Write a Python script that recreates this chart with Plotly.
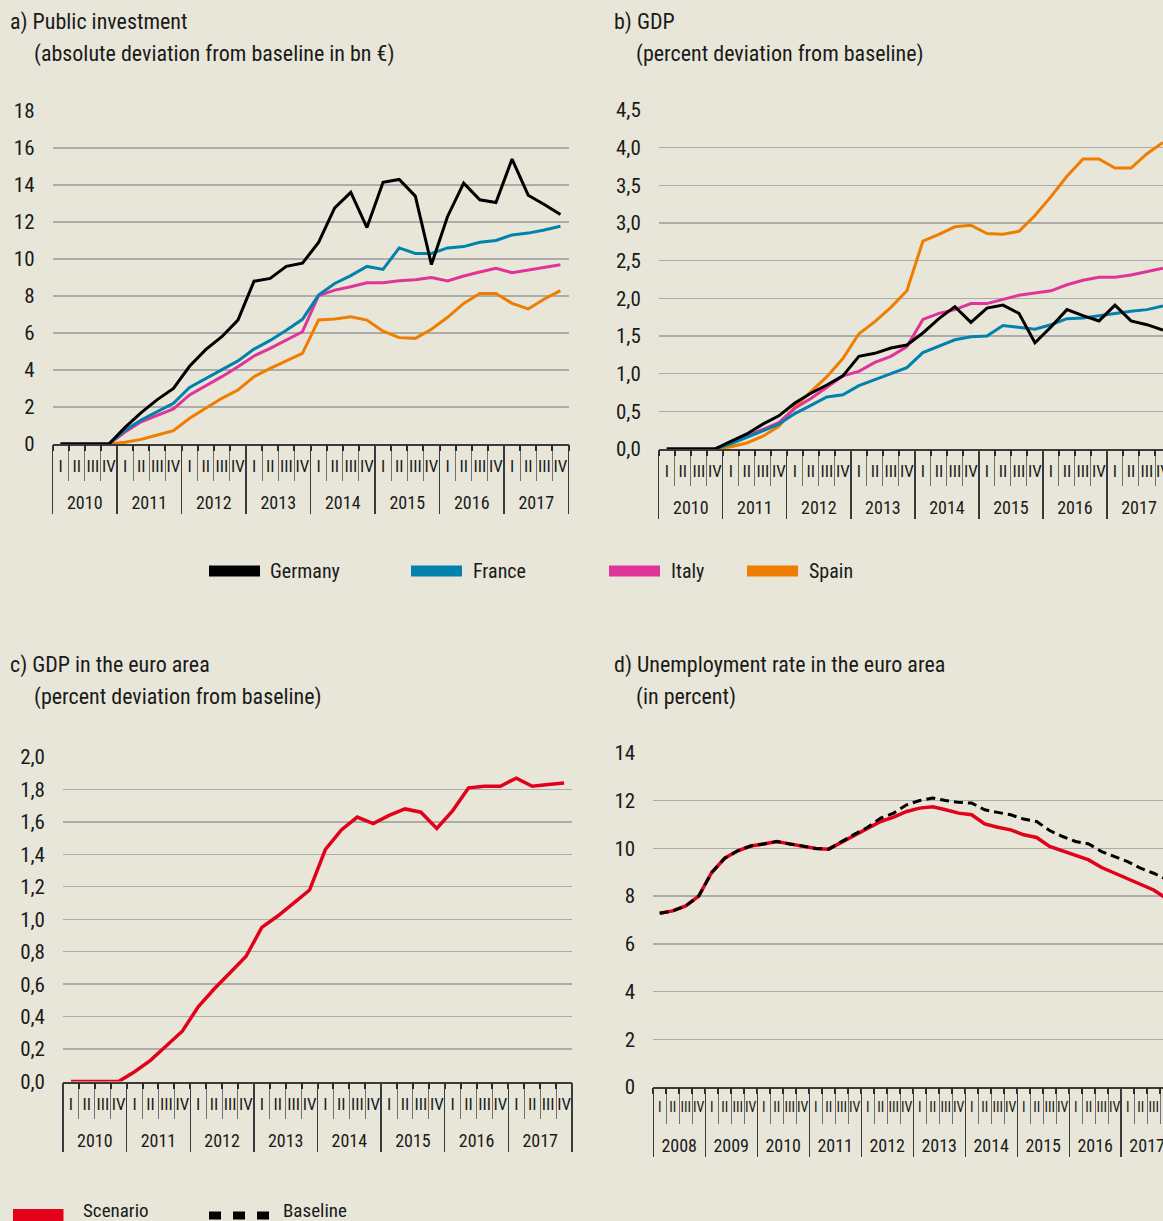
import plotly.graph_objects as go

W, H = 1163, 1221
BG = "#e8e6d9"
FONT = "Roboto Condensed, DejaVu Sans Condensed, Roboto, sans-serif"
TXT = "#1a1a1a"

quarters = ["I", "II", "III", "IV"]
years_ab = ["2010", "2011", "2012", "2013", "2014", "2015", "2016", "2017"]
years_d = ["2008", "2009", "2010", "2011", "2012", "2013", "2014", "2015", "2016", "2017"]

# a) Public investment (bn EUR deviation from baseline)
inv_germany = [0, 0, 0, 0, 0.9, 1.7, 2.4, 3.0, 4.2, 5.1, 5.8, 6.7, 8.8, 8.95, 9.6, 9.77,
               10.9, 12.76, 13.6, 11.7, 14.15, 14.3, 13.4, 9.7, 12.3, 14.1, 13.2, 13.05, 15.4, 13.45, 12.95, 12.4]
inv_france = [0, 0, 0, 0, 0.75, 1.3, 1.75, 2.2, 3.06, 3.55, 4.03, 4.49, 5.13, 5.6, 6.15, 6.74,
              8.05, 8.68, 9.1, 9.6, 9.44, 10.6, 10.3, 10.3, 10.6, 10.67, 10.9, 11.0, 11.3, 11.4, 11.57, 11.77]
inv_italy = [0, 0, 0, 0, 0.65, 1.2, 1.55, 1.9, 2.65, 3.13, 3.64, 4.18, 4.76, 5.17, 5.62, 6.07,
             8.02, 8.32, 8.5, 8.72, 8.72, 8.83, 8.88, 9.0, 8.81, 9.08, 9.3, 9.5, 9.26, 9.39, 9.53, 9.69]
inv_spain = [0, 0, 0, 0, 0.09, 0.25, 0.49, 0.72, 1.39, 1.93, 2.47, 2.92, 3.64, 4.09, 4.5, 4.9,
             6.7, 6.76, 6.88, 6.7, 6.1, 5.75, 5.71, 6.2, 6.85, 7.6, 8.14, 8.14, 7.6, 7.3, 7.84, 8.29]

# b) GDP (percent deviation from baseline)
gdp_germany = [0, 0, 0, 0, 0.1, 0.2, 0.33, 0.44, 0.61, 0.74, 0.85, 0.97, 1.23, 1.27, 1.34, 1.38,
               1.54, 1.73, 1.89, 1.68, 1.87, 1.91, 1.8, 1.41, 1.62, 1.85, 1.77, 1.7, 1.91, 1.7, 1.65, 1.58]
gdp_france = [0, 0, 0, 0, 0.07, 0.15, 0.24, 0.33, 0.47, 0.58, 0.69, 0.72, 0.84, 0.92, 1.0, 1.08,
              1.28, 1.37, 1.45, 1.49, 1.5, 1.64, 1.62, 1.59, 1.65, 1.73, 1.74, 1.77, 1.81, 1.83, 1.85, 1.9]
gdp_italy = [0, 0, 0, 0, 0.08, 0.17, 0.26, 0.35, 0.54, 0.67, 0.82, 0.97, 1.03, 1.15, 1.23, 1.36,
             1.72, 1.8, 1.85, 1.93, 1.93, 1.99, 2.04, 2.07, 2.1, 2.18, 2.24, 2.28, 2.28, 2.31, 2.36, 2.4]
gdp_spain = [0, 0, 0, 0, 0.03, 0.08, 0.17, 0.3, 0.56, 0.76, 0.96, 1.2, 1.53, 1.69, 1.88, 2.1,
             2.76, 2.85, 2.95, 2.97, 2.86, 2.85, 2.89, 3.1, 3.35, 3.62, 3.85, 3.85, 3.73, 3.73, 3.92, 4.07]

# c) GDP in the euro area
ea_gdp = [0, 0, 0, 0, 0.06, 0.13, 0.22, 0.31, 0.46, 0.57, 0.67, 0.77, 0.95, 1.02, 1.1, 1.18,
          1.43, 1.55, 1.63, 1.59, 1.64, 1.68, 1.66, 1.56, 1.67, 1.81, 1.82, 1.82, 1.87, 1.82, 1.83, 1.84]

# d) Unemployment rate in the euro area
unemp_scenario = [7.28, 7.38, 7.59, 8.0, 8.99, 9.59, 9.9, 10.1, 10.19, 10.29, 10.19, 10.1, 10.0, 9.97,
                  10.25, 10.53, 10.81, 11.13, 11.31, 11.55, 11.69, 11.75, 11.62, 11.48, 11.41, 11.03,
                  10.89, 10.78, 10.57, 10.46, 10.08, 9.9, 9.69, 9.52, 9.2, 8.96, 8.75, 8.47, 8.26, 7.9]
unemp_baseline = [7.28, 7.38, 7.59, 8.0, 8.99, 9.59, 9.9, 10.1, 10.19, 10.29, 10.19, 10.1, 10.0, 9.97,
                  10.29, 10.6, 10.89, 11.27, 11.48, 11.83, 12.01, 12.11, 12.01, 11.93, 11.9, 11.62,
                  11.51, 11.41, 11.23, 11.13, 10.75, 10.5, 10.29, 10.19, 9.87, 9.66, 9.45, 9.17, 8.96, 8.7]

countries = ["Germany", "France", "Italy", "Spain"]
colors = {"Germany": "#000000", "France": "#0082ad", "Italy": "#e0349a", "Spain": "#ef7d00"}
RED = "#e2001a"


def cats(years):
    return [f"{y} {q}" for y in years for q in quarters]


x_ab = cats(years_ab)
x_d = cats(years_d)

fig = go.Figure()

inv = {"Germany": inv_germany, "France": inv_france, "Italy": inv_italy, "Spain": inv_spain}
gdp = {"Germany": gdp_germany, "France": gdp_france, "Italy": gdp_italy, "Spain": gdp_spain}
order = ["Spain", "Italy", "France", "Germany"]
for c in order:
    fig.add_trace(go.Scatter(x=x_ab, y=inv[c], mode="lines", name=c, xaxis="x", yaxis="y",
                             line=dict(color=colors[c], width=3), showlegend=False))
for c in order:
    fig.add_trace(go.Scatter(x=x_ab, y=gdp[c], mode="lines", name=c, xaxis="x2", yaxis="y2",
                             line=dict(color=colors[c], width=3), showlegend=False))
fig.add_trace(go.Scatter(x=x_ab, y=ea_gdp, mode="lines", name="Scenario", xaxis="x3", yaxis="y3",
                         line=dict(color=RED, width=3.5), showlegend=False))
fig.add_trace(go.Scatter(x=x_d, y=unemp_scenario, mode="lines", name="Scenario", xaxis="x4", yaxis="y4",
                         line=dict(color=RED, width=3.5), showlegend=False))
fig.add_trace(go.Scatter(x=x_d, y=unemp_baseline, mode="lines", name="Baseline", xaxis="x4", yaxis="y4",
                         line=dict(color="#000000", width=3, dash="9px,5px"), showlegend=False))


def xd(l, r):
    return [l / W, min(r / W, 1.0)]


def yd(top, bottom):
    return [1 - bottom / H, 1 - top / H]


def main_x(dom, anchor, rng, xcats, qsize):
    return dict(type="category", domain=dom, anchor=anchor, range=rng, categoryorder="array",
                categoryarray=xcats, tickmode="array", tickvals=xcats,
                ticktext=[c.split(" ")[1] for c in xcats], tickson="boundaries", tickangle=0,
                showgrid=False, zeroline=False, showline=True, linecolor="#3a3a3a", linewidth=2,
                ticks="outside", ticklen=35, tickcolor="#6f6f6f", tickwidth=1, ticklabelstandoff=6,
                ticklabeloverflow="allow",
                automargin=False, tickfont=dict(family=FONT, size=qsize, color=TXT), fixedrange=True)


def year_x(over, anchor, rng, years):
    n = len(years)
    return dict(type="linear", overlaying=over, anchor=anchor, side="bottom", range=rng,
                tickmode="array", tickvals=[4 * i + 1.5 for i in range(n)], ticktext=years,
                ticks="", showline=False, showgrid=False, zeroline=False, ticklabelstandoff=46,
                ticklabeloverflow="allow",
                automargin=False, tickfont=dict(family=FONT, size=18, color=TXT), fixedrange=True)


def sep_x(over, anchor, rng, years):
    n = len(years)
    return dict(type="linear", overlaying=over, anchor=anchor, side="bottom", range=rng,
                tickmode="array", tickvals=[4 * i - 0.5 for i in range(n + 1)], showticklabels=False,
                ticks="outside", ticklen=69, tickcolor="#3a3a3a", tickwidth=1.3,
                minor=dict(tickmode="linear", tick0=-0.5, dtick=1, ticks="outside", ticklen=6,
                           tickcolor="#2a2a2a", tickwidth=2),
                showline=False, showgrid=False, zeroline=False, automargin=False, fixedrange=True)


def yaxis_cfg(dom, anchor, rng, dtick, fmt):
    return dict(domain=dom, anchor=anchor, range=rng, dtick=dtick, tick0=0, tickformat=fmt,
                showgrid=True, gridcolor="#acacaa", gridwidth=1.4, zeroline=False, showline=False,
                ticks="", ticklabelstandoff=17, automargin=False,
                tickfont=dict(family=FONT, size=21, color=TXT), fixedrange=True)


rng_a = [-0.5, 31.5]
rng_b = [-0.5, 31.0]
rng_c = [-0.5, 31.5]
rng_d = [-0.5, 38.72]

fig.update_layout(
    width=W, height=H, margin=dict(l=0, r=0, t=0, b=0, autoexpand=False),
    paper_bgcolor=BG, plot_bgcolor=BG, separators=",.",
    font=dict(family=FONT, color=TXT),
    xaxis=main_x(xd(52.5, 568.5), "y", rng_a, x_ab, 17),
    yaxis=yaxis_cfg(yd(111, 444), "x", [0, 18], 2, "d"),
    xaxis2=main_x(xd(658.8, 1163), "y2", rng_b, x_ab, 17),
    yaxis2=yaxis_cfg(yd(110, 449), "x2", [0, 4.5], 0.5, ".1f"),
    xaxis3=main_x(xd(63, 572), "y3", rng_c, x_ab, 17),
    yaxis3=yaxis_cfg(yd(757, 1081.5), "x3", [0, 2.0], 0.2, ".1f"),
    xaxis4=main_x(xd(653.2, 1163), "y4", rng_d, x_d, 14),
    yaxis4=yaxis_cfg(yd(753, 1087), "x4", [0, 14], 2, "d"),
    xaxis5=year_x("x", "y", rng_a, years_ab),
    xaxis6=sep_x("x", "y", rng_a, years_ab),
    xaxis7=year_x("x2", "y2", rng_b, years_ab),
    xaxis8=sep_x("x2", "y2", rng_b, years_ab),
    xaxis9=year_x("x3", "y3", rng_c, years_ab),
    xaxis10=sep_x("x3", "y3", rng_c, years_ab),
    xaxis11=year_x("x4", "y4", rng_d, years_d),
    xaxis12=sep_x("x4", "y4", rng_d, years_d),
)

# empty helper traces so that the overlay axes (year labels and separators) are rendered
for xa, ya in [("x5", "y"), ("x6", "y"), ("x7", "y2"), ("x8", "y2"),
               ("x9", "y3"), ("x10", "y3"), ("x11", "y4"), ("x12", "y4")]:
    fig.add_trace(go.Scatter(x=[None], y=[None], xaxis=xa, yaxis=ya, mode="lines",
                             showlegend=False, hoverinfo="skip"))

# titles
titles = [
    (8, 22, "a) Public investment"), (32, 54, "(absolute deviation from baseline in bn €)"),
    (612, 22, "b) GDP"), (634, 54, "(percent deviation from baseline)"),
    (8, 665, "c) GDP in the euro area"), (32, 697, "(percent deviation from baseline)"),
    (612, 665, "d) Unemployment rate in the euro area"), (634, 697, "(in percent)"),
]
for x, y, t in titles:
    fig.add_annotation(x=x / W, y=1 - y / H, xref="paper", yref="paper", text=t, showarrow=False,
                       xanchor="left", yanchor="middle", font=dict(family=FONT, size=22, color=TXT))

# legends
leg = [("Germany", 209, 268), ("France", 411, 471), ("Italy", 609, 669), ("Spain", 747, 807)]
for name, sx, tx in leg:
    fig.add_shape(type="rect", xref="paper", yref="paper", x0=sx / W, x1=(sx + 51) / W,
                  y0=1 - 576.5 / H, y1=1 - 565.5 / H, fillcolor=colors[name], line=dict(width=0))
    fig.add_annotation(x=tx / W, y=1 - 571 / H, xref="paper", yref="paper", text=name, showarrow=False,
                       xanchor="left", yanchor="middle", font=dict(family=FONT, size=20, color=TXT))

fig.add_shape(type="rect", xref="paper", yref="paper", x0=13 / W, x1=63.5 / W,
              y0=1 - 1221 / H, y1=1 - 1209 / H, fillcolor=RED, line=dict(width=0))
fig.add_annotation(x=81 / W, y=1 - 1210.5 / H, xref="paper", yref="paper", text="Scenario", showarrow=False,
                   xanchor="left", yanchor="middle", font=dict(family=FONT, size=19, color=TXT))
fig.add_shape(type="line", xref="paper", yref="paper", x0=209 / W, x1=271 / W,
              y0=1 - 1215.5 / H, y1=1 - 1215.5 / H, line=dict(color="#000000", width=8, dash="12px,12px"))
fig.add_annotation(x=281 / W, y=1 - 1210.5 / H, xref="paper", yref="paper", text="Baseline", showarrow=False,
                   xanchor="left", yanchor="middle", font=dict(family=FONT, size=19, color=TXT))

fig.write_html("out.html", config={"displayModeBar": False, "staticPlot": True},
               post_script="document.body.style.margin='0';document.body.style.background='%s';" % BG)
